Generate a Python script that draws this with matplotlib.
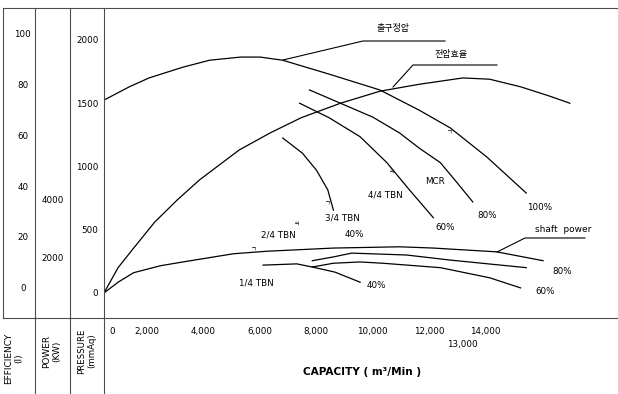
import matplotlib
matplotlib.use('Agg')
import matplotlib.pyplot as plt
from matplotlib.lines import Line2D
from matplotlib.transforms import ScaledTranslation

W, H = 618, 394
KR = ['Noto Sans CJK KR', 'DejaVu Sans']

# capacity (m3/min) vs pressure (mmAq)
cap_static = [0, 900, 1600, 2800, 3750, 4850, 5550, 6350, 8000, 9800, 11200, 12300, 13600, 15000]
p_static = [1525, 1630, 1700, 1785, 1840, 1865, 1865, 1840, 1730, 1605, 1445, 1305, 1075, 790]

cap_eff = [0, 500, 1000, 1800, 2600, 3400, 4800, 5900, 7000, 8400, 9800, 11200, 12750, 13700, 14800, 15850, 16550]
p_eff = [0, 200, 340, 560, 735, 895, 1130, 1265, 1385, 1500, 1595, 1650, 1700, 1690, 1630, 1555, 1500]

cap_80 = [7300, 8400, 9550, 10500, 11200, 11950, 12550, 13100]
p_80 = [1605, 1500, 1390, 1265, 1145, 1030, 870, 720]

cap_60 = [6950, 8000, 9100, 10050, 10850, 11700]
p_60 = [1500, 1385, 1235, 1030, 815, 595]

cap_40 = [6350, 7050, 7550, 7950, 8150]
p_40 = [1225, 1105, 970, 815, 655]

cap_shaft = [0, 500, 1050, 2000, 2800, 4600, 5800, 8150, 10500, 11700, 13950, 15600]
p_shaft = [0, 85, 160, 215, 245, 310, 330, 355, 365, 355, 325, 255]

cap_sh80 = [7400, 8150, 8800, 10750, 12300, 15000]
p_sh80 = [255, 285, 315, 300, 260, 200]

cap_sh60 = [7400, 8150, 9100, 9900, 11950, 13700, 14800]
p_sh60 = [205, 235, 245, 235, 200, 120, 40]

cap_sh40 = [5650, 6850, 7400, 8200, 9100]
p_sh40 = [220, 230, 205, 165, 85]

x_ticks = [2000, 4000, 6000, 8000, 10000, 12000, 14000]
x_labels = ['2,000', '4,000', '6,000', '8,000', '10,000', '12,000', '14,000']
p_ticks = [0, 500, 1000, 1500, 2000]
eff_ticks = [0, 20, 40, 60, 80, 100]
pow_ticks = [2000, 4000]


def fx(px):
    return px / W


def fy(py):
    return 1 - py / H


fig = plt.figure(figsize=(W / 100, H / 100), dpi=100)
fig.patch.set_facecolor('white')

top, sep = 8, 318
bot = fy(sep)
hgt = (sep - top) / H

ax = fig.add_axes([fx(104), bot, fx(W - 104), hgt])
ax.set_xlim(0, 18260)
ax.set_ylim(-198, 2253)
for s in ax.spines.values():
    s.set_visible(False)

lw = 0.9
for c, p in [(cap_static, p_static), (cap_eff, p_eff), (cap_80, p_80), (cap_60, p_60),
             (cap_40, p_40), (cap_shaft, p_shaft), (cap_sh80, p_sh80),
             (cap_sh60, p_sh60), (cap_sh40, p_sh40)]:
    ax.plot(c, p, color='black', lw=lw)

ax.set_xticks(x_ticks)
ax.set_xticklabels(x_labels, fontsize=6.3)
ax.set_yticks(p_ticks)
ax.set_yticklabels([str(v) for v in p_ticks], fontsize=6.3)
ax.tick_params(axis='both', length=0)
ax.tick_params(axis='x', pad=6.5)
ax.tick_params(axis='y', pad=4)
off = ScaledTranslation(-13 / 100, 0, fig.dpi_scale_trans)
for lab in ax.get_xticklabels():
    lab.set_transform(lab.get_transform() + off)
ax.text(0, 0, '0', fontsize=6.3, ha='center', va='center',
        transform=ax.get_xaxis_transform() + ScaledTranslation(8 / 100, -13 / 100, fig.dpi_scale_trans))
ax.text(13000, 0, '13,000', fontsize=6.3, ha='center', va='center',
        transform=ax.get_xaxis_transform() + ScaledTranslation(-8 / 100, -27 / 100, fig.dpi_scale_trans))

# efficiency column
ax_e = fig.add_axes([fx(3), bot, fx(32), hgt])
ax_e.set_ylim(-11.6, 110.6)
ax_e.axis('off')
for v in eff_ticks:
    ax_e.text(0.62, v, str(v), fontsize=6.3, ha='center', va='center',
              transform=ax_e.get_yaxis_transform())

# power column
ax_w = fig.add_axes([fx(35), bot, fx(35), hgt])
ax_w.set_ylim(-69, 10621)
ax_w.axis('off')
for v in pow_ticks:
    ax_w.text(0.5, v, str(v), fontsize=6.3, ha='center', va='center',
              transform=ax_w.get_yaxis_transform())

# frame lines
fc = '0.3'
for px, y0 in [(3, sep), (35, 394), (70, 394), (104, 394)]:
    fig.add_artist(Line2D([fx(px), fx(px)], [fy(top), fy(y0)], color=fc, lw=0.8))
for py in [top, sep]:
    fig.add_artist(Line2D([fx(3), 1], [fy(py), fy(py)], color=fc, lw=0.8))

# axis titles in bottom cells
fig.text(fx(14), fy(358), 'EFFICIENCY\n(I)', rotation=90, fontsize=6.5, ha='center', va='center',
         multialignment='center')
fig.text(fx(52), fy(351), 'POWER\n(KW)', rotation=90, fontsize=6.5, ha='center', va='center',
         multialignment='center')
fig.text(fx(87), fy(351), 'PRESSURE\n(mmAq)', rotation=90, fontsize=6.2, ha='center', va='center',
         multialignment='center')
fig.text(fx(362), fy(372), 'CAPACITY ( m³/Min )', fontsize=7.6, fontweight='bold',
         ha='center', va='center')

# leaders and labels (pixel positions)
def pline(xs, ys):
    fig.add_artist(Line2D([fx(v) for v in xs], [fy(v) for v in ys], color='black', lw=0.8))

pline([283, 363, 445], [60, 41, 41])
fig.text(fx(393), fy(28), '출구정압', family=KR, fontsize=6.5, ha='center', va='center')
pline([393, 413, 497], [87, 65, 65])
fig.text(fx(451), fy(55), '전압효율', family=KR, fontsize=6.5, ha='center', va='center')
pline([497, 525, 585], [252, 238, 238])
fig.text(fx(563), fy(230), 'shaft  power', fontsize=6.5, ha='center', va='center')

labels = [('MCR', 435, 182), ('4/4 TBN', 385, 195), ('3/4 TBN', 342, 218),
          ('2/4 TBN', 278, 235), ('40%', 354, 235), ('60%', 445, 228),
          ('80%', 487, 215), ('100%', 540, 207), ('80%', 562, 272),
          ('60%', 545, 292), ('40%', 376, 285), ('1/4 TBN', 256, 283)]
for t, x, y in labels:
    fig.text(fx(x), fy(y), t, fontsize=6.3, ha='center', va='center')

marks = [('ㄱ', 450, 133), ('ㅋ', 392, 172), ('ㄱ', 328, 204), ('ㅋ', 297, 224), ('ㄱ', 254, 250)]
for t, x, y in marks:
    fig.text(fx(x), fy(y), t, family=KR, fontsize=4.5, ha='center', va='center')

fig.savefig('out.png', dpi=100, facecolor='white')
